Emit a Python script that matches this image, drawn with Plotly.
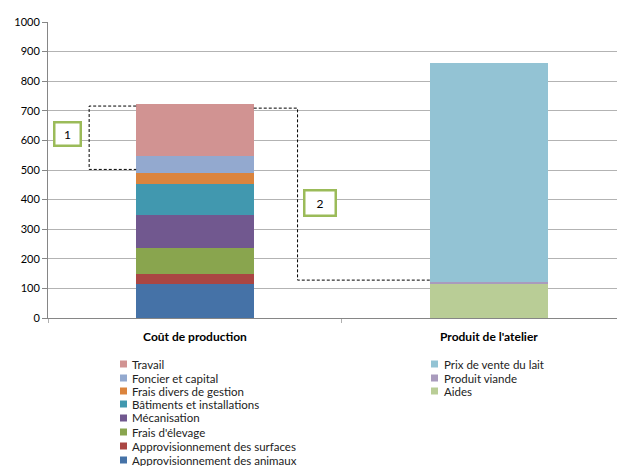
import plotly.graph_objects as go

categories = ["Coût de production", "Produit de l'atelier"]

cost_series = [
    "Approvisionnement des animaux",
    "Approvisionnement des surfaces",
    "Frais d'élevage",
    "Mécanisation",
    "Bâtiments et installations",
    "Frais divers de gestion",
    "Foncier et capital",
    "Travail",
]
cost_values = [116, 33, 87, 112, 105, 37, 58, 175]
cost_colors = ["#4572a7", "#aa4643", "#89a54e", "#71588f", "#4198af",
               "#db843d", "#93a9cf", "#d19392"]

prod_series = ["Aides", "Produit viande", "Prix de vente du lait"]
prod_values = [115, 5, 742]
prod_colors = ["#b9cd96", "#a99bbd", "#93c3d4"]

y_ticks = list(range(0, 1001, 100))

FONT = "Lato"
OFF = 8  # page body margin
W, H = 617, 458
ML, MR, MT, MB = 40, 0, 14, 148
PW = W - ML - MR
PH = H - MT - MB

fig = go.Figure()
for name, val, col in zip(cost_series, cost_values, cost_colors):
    fig.add_trace(go.Bar(x=[categories[0]], y=[val], name=name,
                         marker=dict(color=col, line=dict(width=0)),
                         width=0.4, showlegend=False))
for name, val, col in zip(prod_series, prod_values, prod_colors):
    fig.add_trace(go.Bar(x=[categories[1]], y=[val], name=name,
                         marker=dict(color=col, line=dict(width=0)),
                         width=0.4, showlegend=False))

def px2paper(px, py):
    # page pixel -> paper coordinates
    return (px - OFF - ML) / PW, (OFF + H - MB - py) / PH

shapes = []
annotations = []

# dashed brackets
dash = dict(color="black", width=1, dash="3px,2px")
shapes.append(dict(type="path", xref="x", yref="y",
                   path="M -0.2 716 L -0.36 716 L -0.36 502 L -0.2 502",
                   line=dash))
shapes.append(dict(type="path", xref="x", yref="y",
                   path="M 0.2 709 L 0.349 709 L 0.349 128 L 0.8 128",
                   line=dash))

# numbered boxes
for txt, bx, by, bw, bh in [("1", -0.435, 620, 22, 19), ("2", 0.427, 390, 27, 21)]:
    annotations.append(dict(x=bx, y=by, xref="x", yref="y", text=txt,
                            showarrow=False, bgcolor="white",
                            bordercolor="#9bbb59", borderwidth=2.5, borderpad=1,
                            width=bw, height=bh,
                            font=dict(family=FONT, size=12, color="black")))

# manual legends (two columns)
row_y = [364, 378, 391, 404, 418, 432, 446, 460]
left_items = list(zip(cost_series, cost_colors))[::-1]
right_items = list(zip(prod_series, prod_colors))[::-1]
for items, sq_x, tx in [(left_items, 120, 130), (right_items, 431, 442)]:
    for (name, col), ry in zip(items, row_y):
        x0, y0 = px2paper(sq_x, ry + 3.5)
        x1, y1 = px2paper(sq_x + 7, ry - 3.5)
        shapes.append(dict(type="rect", xref="paper", yref="paper",
                           x0=x0, y0=y0, x1=x1, y1=y1,
                           fillcolor=col, line=dict(width=0)))
        ax, ay = px2paper(tx, ry)
        annotations.append(dict(x=ax, y=ay, xref="paper", yref="paper",
                                text=name, showarrow=False,
                                xanchor="left", yanchor="middle",
                                font=dict(family=FONT, size=11.5, color="#222222")))

fig.update_layout(
    width=W, height=H,
    margin=dict(l=ML, r=MR, t=MT, b=MB),
    barmode="stack",
    bargap=0,
    paper_bgcolor="white",
    plot_bgcolor="white",
    showlegend=False,
    font=dict(family=FONT, size=11, color="black"),
    shapes=shapes,
    annotations=annotations,
    xaxis=dict(
        type="category",
        range=[-0.5, 1.463],
        showline=True, linecolor="#868686", linewidth=1,
        ticks="outside", tickson="boundaries", ticklen=4,
        tickcolor="#b0b0b0",
        showgrid=False,
        tickfont=dict(family=FONT, size=12, color="black", weight="bold"),
        ticklabelstandoff=8,
    ),
    yaxis=dict(
        range=[0, 1000],
        tickvals=y_ticks,
        showline=True, linecolor="#868686", linewidth=1,
        ticks="outside", ticklen=5, tickcolor="#868686",
        showgrid=True, gridcolor="#b3b3b3", gridwidth=1,
        zeroline=False,
        tickfont=dict(family=FONT, size=11, color="black"),
    ),
)

fig.write_html("out.html")
